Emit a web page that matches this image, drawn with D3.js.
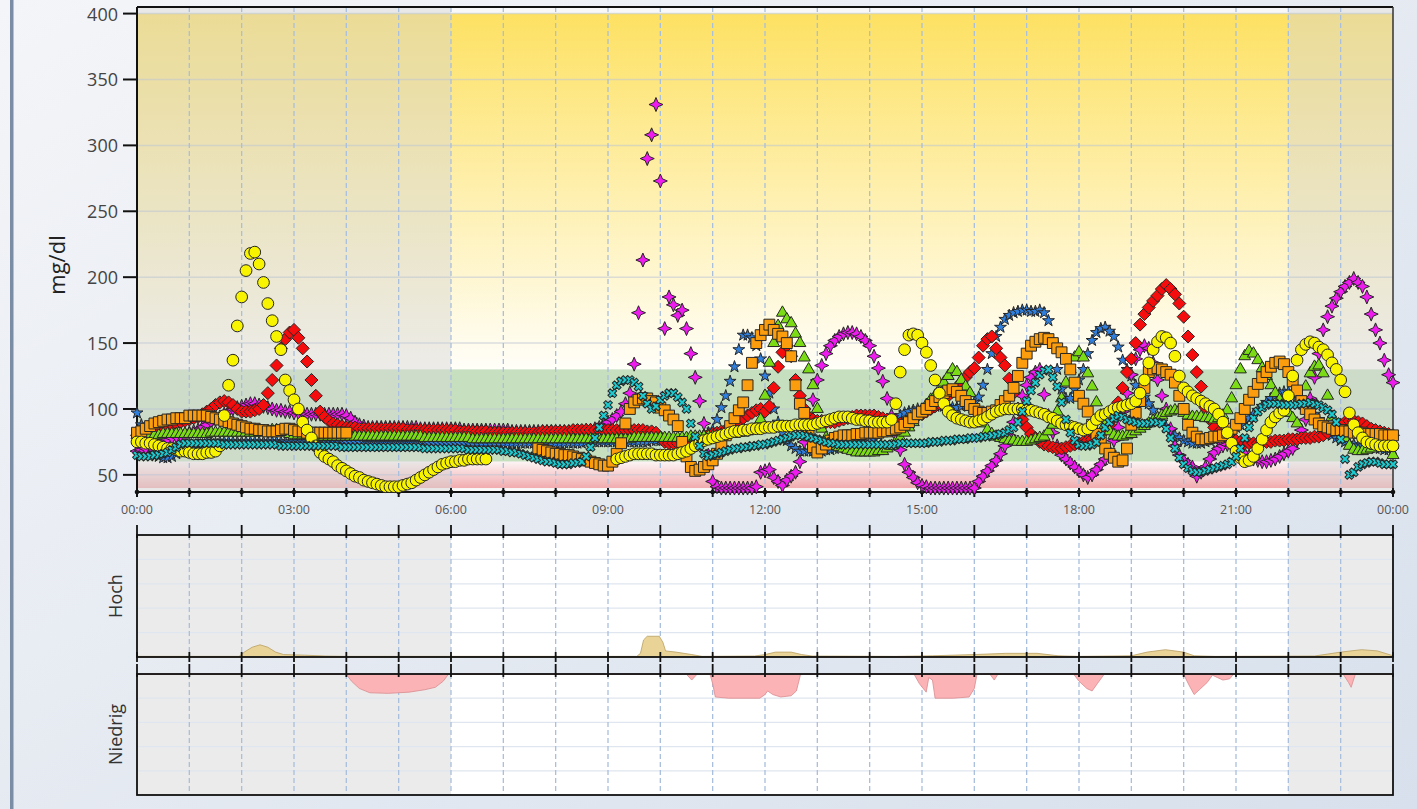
<!DOCTYPE html>
<html>
<head>
<meta charset="utf-8">
<script src="https://cdn.jsdelivr.net/npm/d3@7"></script>
<style>
html, body { margin: 0; padding: 0; width: 1417px; height: 809px; overflow: hidden; }
svg { display: block; }
text { font-family: "Open Sans", "DejaVu Sans", sans-serif; }
</style>
</head>
<body>
<svg id="chart" width="1417" height="809"></svg>
<script>
// ---- Glucose readings, one value every 5 minutes from 00:00 to 24:00 (mg/dl); null = no reading ----
const redValues = [
  80,81,82,83,84,85,86,87,88,89,90,91,
  92,93,94,96,98,100,103,105,106,105,103,100,
  98,98,98,99,100,103,112,122,133,146,153,158,
  160,154,146,136,122,110,98,94,91,89,88,87,
  86,86,86,85,85,85,85,85,85,85,85,85,
  85,85,84,84,84,84,84,84,84,84,84,84,
  84,84,83,83,83,83,83,83,83,82,82,82,
  82,82,82,82,82,82,82,82,82,83,83,83,
  83,83,83,83,84,84,84,84,84,84,84,84,
  84,84,84,84,84,84,84,84,84,83,83,82,
  78,75,74,74,74,75,75,76,77,78,79,80,
  81,82,83,84,86,88,90,93,95,97,99,100,
  98,102,116,132,143,148,140,122,110,100,94,92,
  91,91,90,90,90,91,92,93,94,95,95,95,
  95,95,94,93,92,91,90,89,89,90,92,95,
  96,98,100,102,104,107,110,113,116,120,124,128,
  131,139,148,153,155,146,139,133,123,112,100,92,
  86,81,78,75,73,72,71,70,70,71,72,73,
  74,75,76,77,79,81,84,88,94,105,116,128,
  138,150,164,172,177,182,186,191,194,191,187,180,
  170,155,141,128,117,101,92,86,82,80,78,77,
  76,75,74,74,74,74,75,75,75,76,76,76,
  77,77,77,78,78,78,79,79,80,82,84,86,
  88,90,91,91,90,89,87,85,84,83,82,81,
  80
];
const yellowValues = [
  75,75,74,74,73,72,71,70,70,69,68,68,
  67,66,66,66,67,67,68,72,95,118,137,163,
  185,205,218,219,210,196,180,167,155,145,122,114,
  107,100,90,84,78,72,67,64,62,60,57,55,
  53,51,49,48,46,45,44,43,42,41,41,41,
  41,42,43,44,46,48,50,52,54,56,58,59,
  60,60,61,61,62,62,62,62,62,null,null,null,
  null,null,null,null,null,null,null,null,null,null,null,null,
  null,null,null,null,null,null,null,null,null,null,null,null,
  null,null,62,63,64,65,66,66,66,66,66,65,
  65,65,65,65,66,67,68,70,72,74,76,77,
  78,79,80,81,82,83,83,84,84,85,85,85,
  86,86,86,87,87,87,87,88,88,88,88,88,
  89,90,91,92,93,94,94,94,93,92,92,91,
  91,90,90,90,90,92,104,128,145,156,157,156,
  150,143,133,122,112,104,98,95,93,92,91,90,
  90,91,92,94,96,98,99,100,100,100,100,100,
  99,99,98,97,96,94,93,91,89,88,87,86,
  85,84,85,88,92,95,96,98,100,101,102,103,
  104,106,112,122,135,145,151,155,154,150,140,125,
  116,113,110,108,106,104,102,100,96,90,82,74,
  68,63,60,61,64,70,77,84,90,94,97,99,
  110,125,137,145,149,151,150,147,145,141,135,130,
  122,113,97,88,82,78,75,74,73,72,72,72,
  72
];
const orangeValues = [
  82,83,85,87,89,90,91,92,92,93,93,93,
  95,95,95,95,95,94,93,92,91,90,89,88,
  87,86,85,85,84,84,83,83,83,84,85,85,
  84,83,83,82,82,82,82,82,82,82,82,82,
  82,null,null,null,null,null,null,null,null,null,null,null,
  null,null,null,null,null,null,null,null,null,null,null,null,
  null,null,null,null,null,null,null,null,null,null,null,null,
  null,null,null,null,null,null,null,null,70,69,68,67,
  66,66,65,65,64,63,62,61,60,59,58,57,
  57,60,66,74,89,100,105,107,108,108,106,105,
  101,99,95,92,87,75,64,56,53,54,56,58,
  61,66,72,80,87,93,99,105,118,135,150,156,
  160,164,160,157,155,150,140,118,104,97,80,71,
  67,70,73,76,78,79,80,80,80,81,81,82,
  82,82,82,83,83,84,85,86,88,90,93,96,
  98,100,103,106,109,112,114,115,113,110,106,103,
  100,98,97,97,98,99,103,106,110,116,125,135,
  142,148,151,153,154,153,150,146,143,138,130,120,
  110,104,98,88,81,76,70,66,63,60,61,70,
  88,97,106,116,128,130,131,130,128,126,120,110,
  100,88,82,79,77,77,78,79,79,80,82,85,
  88,93,100,107,113,119,124,128,132,135,136,134,
  128,121,114,106,100,96,92,89,87,86,85,84,
  84,83,83,82,82,82,81,81,81,81,80,80,
  80
];
const greenValues = [
  80,80,80,80,80,80,81,81,81,81,81,81,
  81,81,81,81,81,82,82,82,82,82,82,82,
  82,82,82,82,82,83,83,84,84,83,82,81,
  80,80,80,80,79,79,79,79,79,79,79,79,
  79,79,79,79,79,79,79,79,79,79,79,79,
  79,79,79,79,79,79,78,78,78,78,78,78,
  78,78,78,78,78,77,77,77,77,77,77,77,
  77,77,77,77,77,77,77,77,77,77,77,77,
  77,77,77,77,77,77,77,77,77,77,77,77,
  77,77,77,77,77,77,78,78,78,78,78,78,
  78,78,78,78,78,78,78,79,79,79,79,79,
  79,79,80,80,81,81,82,82,83,84,85,92,
  110,135,150,163,173,168,165,157,150,139,130,118,
  100,85,78,75,72,71,70,69,68,67,67,67,
  67,67,68,68,70,72,75,78,82,86,90,95,
  99,103,107,110,115,120,125,130,128,122,117,112,
  100,94,89,84,81,79,78,77,76,76,75,75,
  75,76,77,78,79,83,88,98,108,120,130,139,
  143,139,127,117,105,95,88,83,80,79,79,80,
  81,83,85,87,89,91,93,95,97,98,99,99,
  97,95,94,94,94,93,93,92,93,95,99,108,
  118,130,140,144,142,137,131,125,118,112,107,102,
  97,93,89,105,117,127,132,133,127,110,94,86,
  83,78,72,69,68,68,69,70,72,74,73,70,
  65
];
const cyanValues = [
  65,64,64,64,65,65,66,67,69,71,73,74,
  74,74,74,74,74,74,74,74,73,73,73,73,
  73,73,73,73,73,73,73,73,73,72,72,72,
  72,72,72,72,72,72,72,72,72,72,72,71,
  71,71,71,71,71,71,71,71,71,71,71,71,
  71,71,71,71,71,71,70,70,70,70,70,70,
  70,70,70,70,69,69,69,69,69,69,69,69,
  68,68,67,67,66,65,64,63,62,61,60,60,
  59,58,58,58,59,59,60,64,71,78,86,95,
  103,112,118,121,122,122,120,117,110,104,100,102,
  107,110,112,112,109,105,100,89,79,72,66,64,
  65,66,67,68,69,70,70,71,71,72,72,73,
  73,74,75,76,77,78,79,80,80,80,79,78,
  77,76,75,74,74,73,73,73,73,73,73,73,
  73,73,73,73,73,73,73,74,74,74,74,74,
  74,74,75,75,75,76,76,76,77,77,77,78,
  78,78,79,79,80,80,81,82,84,86,90,98,
  106,114,120,126,129,130,124,117,105,92,82,76,
  73,72,72,73,75,80,86,90,93,95,94,92,
  91,90,89,89,89,90,90,89,85,78,70,63,
  58,55,53,52,52,53,54,55,56,57,58,60,
  64,70,78,86,93,98,101,103,104,104,104,103,
  103,103,103,104,104,105,104,103,101,99,96,90,
  77,62,50,52,56,58,59,60,60,59,58,58,
  58
];
const blueValues = [
  97,88,78,70,66,64,63,63,64,66,68,70,
  71,72,73,73,74,74,74,75,75,75,75,75,
  75,75,75,75,75,75,75,75,75,75,75,75,
  75,75,75,75,75,75,75,75,75,75,75,75,
  75,75,75,75,75,74,74,74,74,74,74,74,
  74,74,74,74,74,74,74,74,74,74,74,74,
  74,74,74,74,74,74,74,74,74,74,74,74,
  74,74,74,74,74,74,74,74,74,74,74,74,
  74,74,74,74,74,74,74,75,75,75,75,75,
  75,75,75,75,75,75,75,75,75,75,76,76,
  76,76,76,76,77,77,77,78,78,79,80,82,
  84,92,101,110,121,132,145,156,156,154,148,138,
  125,112,100,90,82,76,72,70,68,68,68,68,
  68,68,69,69,70,70,71,71,72,72,73,74,
  75,77,80,83,86,89,92,95,97,98,99,100,
  100,101,101,102,102,102,102,101,101,102,103,105,
  105,109,118,130,142,155,162,168,171,173,174,175,
  175,174,174,175,173,167,150,130,115,108,108,115,
  122,130,142,152,158,161,162,159,155,147,137,130,
  125,118,112,109,104,99,94,90,86,83,80,78,
  76,75,74,74,74,75,76,77,78,80,82,84,
  86,88,90,93,96,99,102,105,108,110,112,113,
  113,112,110,107,104,100,96,92,88,84,80,78,
  76,75,74,73,72,72,71,71,70,70,69,69,
  69
];
const magentaValues = [
  68,69,70,72,73,75,76,77,78,79,80,81,
  82,83,84,86,88,90,92,94,96,98,100,101,
  102,103,104,104,103,102,101,100,99,99,98,98,
  97,97,97,96,96,96,96,96,96,96,96,96,
  95,93,90,88,87,86,86,86,86,86,86,86,
  86,86,86,86,86,85,85,85,85,85,85,85,
  85,85,85,84,84,84,84,84,84,84,84,84,
  84,84,83,83,83,83,83,83,83,83,83,83,
  83,83,83,83,83,83,83,84,84,85,86,88,
  90,92,95,98,104,112,134,173,213,290,308,331,
  273,161,185,179,171,175,161,142,124,106,89,65,
  45,41,40,40,40,40,40,40,40,40,41,52,
  53,54,48,45,42,46,49,52,60,75,92,107,
  122,133,142,148,152,155,157,158,158,157,155,152,
  148,140,131,121,108,95,80,69,58,52,48,44,
  42,41,40,40,40,40,40,40,40,40,40,40,
  40,45,49,53,57,61,66,72,80,90,100,110,
  118,124,128,130,111,95,82,72,65,62,59,56,
  53,50,48,50,54,58,62,68,76,86,98,112,
  126,138,145,148,146,135,122,110,100,85,72,65,
  61,58,56,49,52,56,62,67,70,72,73,72,
  70,68,66,64,62,61,60,60,61,62,64,66,
  68,70,76,84,92,108,124,142,160,170,178,184,
  189,193,196,199,196,193,185,172,160,150,137,126,
  120
];

// ---- Summary strips: [hour, amount] ----
const hochProfile = [
  [0,0.5],[1.95,0.5],[2.05,4],[2.2,8],[2.35,10],[2.5,8],[2.65,4],[2.8,2],[3.2,1.5],[3.6,0.8],[4,0.5],
  [9.55,0.5],[9.62,3],[9.68,14],[9.75,17],[9.98,17],[10.05,12],[10.1,5],[10.3,4],[10.6,2],[10.8,0.5],
  [11.8,0.8],[12.0,2],[12.2,4],[12.5,4],[12.7,2],[12.9,0.8],[14.5,0.5],[15.2,1],[16.0,2],[16.6,3],[17.2,3],[17.6,1],[18,0.5],
  [19.0,1],[19.3,4],[19.65,6],[20.0,4],[20.2,1],[20.6,0.5],[22.5,0.8],[23.0,4],[23.4,6],[23.7,5],[24,1]
];
const niedrigProfile = [
  [0,0.3],[4.0,0.3],[4.1,6],[4.25,12],[4.45,15.5],[4.8,16],[5.2,15],[5.5,13],[5.7,11],[5.85,6],[5.95,0.3],
  [10.5,0.3],[10.6,5],[10.7,0.3],
  [10.95,0.3],[11.0,8],[11.05,19],[11.3,20],[11.9,20],[12.0,17],[12.05,14],[12.15,17],[12.3,19],[12.5,18],[12.6,14],[12.68,0.3],
  [14.85,0.3],[14.95,8],[15.08,15],[15.13,3],[15.2,5],[15.25,20],[15.6,20],[15.9,19],[16.0,12],[16.05,0.3],
  [16.3,0.3],[16.38,5],[16.45,0.3],
  [17.9,0.3],[18.0,6],[18.15,12],[18.25,14],[18.35,8],[18.48,0.3],
  [20.0,0.3],[20.1,9],[20.2,17],[20.3,13],[20.45,7],[20.55,1],[20.65,3],[20.75,5],[20.88,4],[20.95,0.3],
  [23.05,0.3],[23.15,7],[23.2,11],[23.28,0.3],[24,0.3]
];

const yTickValues = [50,100,150,200,250,300,350,400];
const xLabelHours = [0,3,6,9,12,15,18,21,24];
const xLabels = ["00:00","03:00","06:00","09:00","12:00","15:00","18:00","21:00","00:00"];
const nightRanges = [[0,6],[22,24]];
const targetRange = [60,130];
const lowFloor = 40;
const highCeil = 400;

// ---- Layout ----
const W = 1417, H = 809;
const plot = { left: 137, right: 1393, top: 7, bottom: 492 };
const hoch = { top: 535, bottom: 657 };
const nied = { top: 674, bottom: 795 };

const x = d3.scaleLinear().domain([0, 24]).range([plot.left, plot.right]);
const y = d3.scaleLinear().domain([37, 405]).range([plot.bottom, plot.top]);
const yH = d3.scaleLinear().domain([0, 100]).range([hoch.bottom, hoch.top]);
const yN = d3.scaleLinear().domain([0, 100]).range([nied.top, nied.bottom]);

const svg = d3.select("#chart");
const defs = svg.append("defs");

function gradient(id, attrs, stops) {
  const g = defs.append("linearGradient").attr("id", id);
  Object.entries(attrs).forEach(([k, v]) => g.attr(k, v));
  stops.forEach(([o, c]) => g.append("stop").attr("offset", o).attr("stop-color", c));
}
gradient("pageBg", { x1: 0, y1: 0, x2: 1, y2: 1 }, [[0, "#f4f5f8"], [1, "#d7e0ec"]]);
gradient("highBand", { gradientUnits: "userSpaceOnUse", x1: 0, x2: 0, y1: y(highCeil), y2: y(targetRange[1]) },
  [[0, "#fde163"], [1, "#fffef8"]]);
gradient("lowBand", { gradientUnits: "userSpaceOnUse", x1: 0, x2: 0, y1: y(targetRange[0]), y2: y(lowFloor) },
  [[0, "#fdf4f4"], [1, "#f1abae"]]);

// page
svg.append("rect").attr("width", W).attr("height", H).attr("fill", "url(#pageBg)");
svg.append("rect").attr("x", 10).attr("y", 0).attr("width", 3.5).attr("height", H).attr("fill", "#7b8da4");

// ---- Main plot background ----
const pw = plot.right - plot.left;
const main = svg.append("g");
main.append("rect").attr("x", plot.left).attr("y", plot.top).attr("width", pw)
  .attr("height", plot.bottom - plot.top).attr("fill", "#f8f8f8");
main.append("rect").attr("x", plot.left).attr("y", y(highCeil)).attr("width", pw)
  .attr("height", y(targetRange[1]) - y(highCeil)).attr("fill", "url(#highBand)");
main.append("rect").attr("x", plot.left).attr("y", y(targetRange[1])).attr("width", pw)
  .attr("height", y(targetRange[0]) - y(targetRange[1])).attr("fill", "#c6e0bf");
main.append("rect").attr("x", plot.left).attr("y", y(targetRange[0])).attr("width", pw)
  .attr("height", y(lowFloor) - y(targetRange[0])).attr("fill", "url(#lowBand)");
nightRanges.forEach(([a, b]) => {
  main.append("rect").attr("x", x(a)).attr("y", plot.top).attr("width", x(b) - x(a))
    .attr("height", plot.bottom - plot.top).attr("fill", "rgba(212,212,212,0.45)");
});

// gridlines
main.selectAll(".hgrid").data(yTickValues).join("line")
  .attr("x1", plot.left).attr("x2", plot.right)
  .attr("y1", d => y(d)).attr("y2", d => y(d))
  .attr("stroke", "rgba(190,198,212,0.55)").attr("stroke-width", 1.5);
const hours = d3.range(1, 24);
main.selectAll(".vgrid").data(hours).join("line")
  .attr("x1", d => x(d)).attr("x2", d => x(d))
  .attr("y1", plot.top).attr("y2", plot.bottom)
  .attr("stroke", "#a9bfdc").attr("stroke-width", 1.3).attr("stroke-dasharray", "5,3");

// frame and axes
main.append("line").attr("x1", plot.left).attr("x2", plot.right).attr("y1", plot.top).attr("y2", plot.top)
  .attr("stroke", "#111").attr("stroke-width", 2);
main.append("line").attr("x1", plot.right).attr("x2", plot.right).attr("y1", plot.top).attr("y2", plot.bottom)
  .attr("stroke", "#333").attr("stroke-width", 1.5);
main.append("line").attr("x1", plot.left).attr("x2", plot.left).attr("y1", plot.top).attr("y2", plot.bottom)
  .attr("stroke", "#111").attr("stroke-width", 2);
main.append("line").attr("x1", plot.left).attr("x2", plot.right).attr("y1", plot.bottom).attr("y2", plot.bottom)
  .attr("stroke", "#111").attr("stroke-width", 2);

main.selectAll(".ytick").data(yTickValues).join("line")
  .attr("x1", plot.left - 14).attr("x2", plot.left)
  .attr("y1", d => y(d)).attr("y2", d => y(d))
  .attr("stroke", "#111").attr("stroke-width", 2);
main.selectAll(".ylab").data(yTickValues).join("text")
  .attr("x", plot.left - 19).attr("y", d => y(d))
  .attr("text-anchor", "end").attr("dominant-baseline", "central")
  .attr("font-size", 18).attr("fill", "#444").text(d => d);

const allHours = d3.range(0, 25);
main.selectAll(".xtick").data(allHours).join("line")
  .attr("x1", d => x(d)).attr("x2", d => x(d))
  .attr("y1", plot.bottom - 4).attr("y2", plot.bottom + 5)
  .attr("stroke", "#111").attr("stroke-width", 2);
main.selectAll(".xdot").data(allHours).join("circle")
  .attr("cx", d => x(d)).attr("cy", plot.bottom).attr("r", 2.3).attr("fill", "#111");
main.selectAll(".xlab").data(xLabelHours).join("text")
  .attr("x", d => x(d)).attr("y", 514)
  .attr("text-anchor", "middle").attr("font-size", 12.5).attr("fill", "#555")
  .text((d, i) => xLabels[i]);

svg.append("text").attr("transform", "translate(56,265) rotate(-90)")
  .attr("text-anchor", "middle").attr("dominant-baseline", "central")
  .attr("font-size", 22).attr("fill", "#222").text("mg/dl");

// ---- Readings ----
const times = d3.range(redValues.length).map(i => i * 5 / 60);
const star4 = r => { const i = r * 0.3;
  return `M0,${-r}L${i},${-i}L${r},0L${i},${i}L0,${r}L${-i},${i}L${-r},0L${-i},${-i}Z`; };
const series = [
  { values: blueValues,    path: d3.symbol(d3.symbolStar, 44)(),      fill: "#2f7fde", rot: 0 },
  { values: magentaValues, path: star4(7),                             fill: "#ee1bee", rot: 0 },
  { values: redValues,     path: "M0,-6.5L6.5,0L0,6.5L-6.5,0Z",         fill: "#f50d0d", rot: 0 },
  { values: greenValues,   path: d3.symbol(d3.symbolTriangle, 62)(),  fill: "#7bdc16", rot: 0 },
  { values: orangeValues,  path: d3.symbol(d3.symbolSquare, 118)(),   fill: "#fb9d0c", rot: 0 },
  { values: yellowValues,  path: d3.symbol(d3.symbolCircle, 108)(),   fill: "#f8f400", rot: 0 },
  { values: cyanValues,    path: d3.symbol(d3.symbolCross, 48)(),     fill: "#1ccbd0", rot: 45 }
];
series.forEach(s => {
  const pts = s.values.map((v, i) => ({ t: times[i], v })).filter(d => d.v != null);
  svg.append("g").selectAll("path").data(pts).join("path")
    .attr("d", s.path)
    .attr("transform", d => `translate(${x(d.t)},${y(d.v)})` + (s.rot ? ` rotate(${s.rot})` : ""))
    .attr("fill", s.fill).attr("stroke", "#262626").attr("stroke-width", 1);
});

// ---- Lower strips ----
function strip(box, scale, profile, fill, stroke, tickTop, tickBottom, label) {
  const g = svg.append("g");
  g.append("rect").attr("x", plot.left).attr("y", box.top).attr("width", pw)
    .attr("height", box.bottom - box.top).attr("fill", "#ffffff");
  nightRanges.forEach(([a, b]) => {
    g.append("rect").attr("x", x(a)).attr("y", box.top).attr("width", x(b) - x(a))
      .attr("height", box.bottom - box.top).attr("fill", "#ebebeb");
  });
  g.selectAll(".hg").data([20, 40, 60, 80]).join("line")
    .attr("x1", plot.left).attr("x2", plot.right)
    .attr("y1", d => scale(d)).attr("y2", d => scale(d))
    .attr("stroke", "#dfe6ef").attr("stroke-width", 1.3);
  g.selectAll(".vg").data(hours).join("line")
    .attr("x1", d => x(d)).attr("x2", d => x(d))
    .attr("y1", box.top).attr("y2", box.bottom)
    .attr("stroke", "#a9bfdc").attr("stroke-width", 1.3).attr("stroke-dasharray", "5,3");
  const area = d3.area().x(d => x(d[0])).y0(scale(0)).y1(d => scale(d[1]));
  g.append("path").attr("d", area(profile)).attr("fill", fill)
    .attr("stroke", stroke).attr("stroke-width", 0.8);
  g.append("rect").attr("x", plot.left).attr("y", box.top).attr("width", pw)
    .attr("height", box.bottom - box.top).attr("fill", "none")
    .attr("stroke", "#111").attr("stroke-width", 1.8);
  if (tickTop) g.selectAll(".tt").data(allHours).join("line")
    .attr("x1", d => x(d)).attr("x2", d => x(d))
    .attr("y1", box.top - 10).attr("y2", box.top + 3)
    .attr("stroke", "#111").attr("stroke-width", 1.8);
  if (tickBottom) g.selectAll(".tb").data(allHours).join("line")
    .attr("x1", d => x(d)).attr("x2", d => x(d))
    .attr("y1", box.bottom - 5).attr("y2", box.bottom + 5)
    .attr("stroke", "#111").attr("stroke-width", 1.8);
  g.append("text").attr("transform", `translate(115,${(box.top + box.bottom) / 2}) rotate(-90)`)
    .attr("text-anchor", "middle").attr("dominant-baseline", "central")
    .attr("font-size", 18).attr("fill", "#333").text(label);
}
strip(hoch, yH, hochProfile, "#ead396", "#b9a063", true, true, "Hoch");
strip(nied, yN, niedrigProfile, "#fbb3b6", "#d98b8f", true, false, "Niedrig");
</script>
</body>
</html>
